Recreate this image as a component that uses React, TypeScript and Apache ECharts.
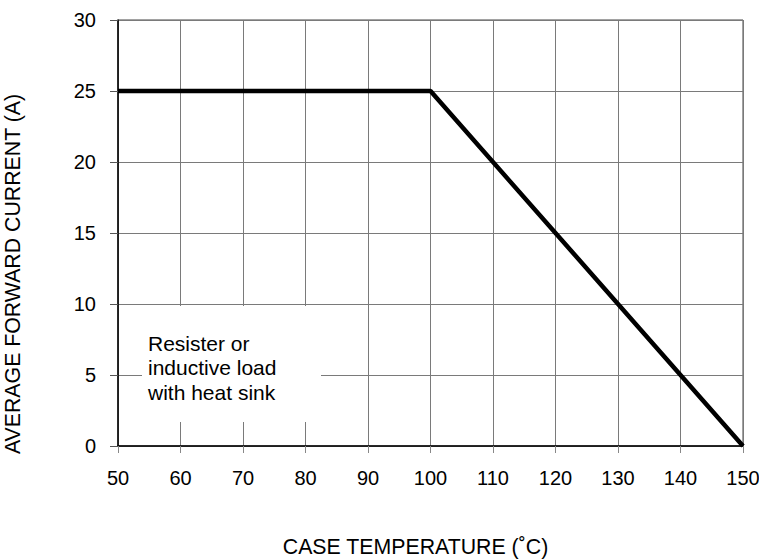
import React, { useEffect, useRef } from "react";
import * as echarts from "echarts";

const temperatures = [50, 100, 150];
const currents = [25, 25, 0];
const xTicks = { min: 50, max: 150, interval: 10 };
const yTicks = { min: 0, max: 30, interval: 5 };
const xName = "CASE TEMPERATURE (˚C)";
const yName = "AVERAGE FORWARD CURRENT (A)";
const noteLines = ["Resister or", "inductive load", "with heat sink"];

const FONT = "'Liberation Sans', Arial, sans-serif";

export default function App() {
  const ref = useRef<HTMLDivElement>(null);
  useEffect(() => {
    if (!ref.current) return;
    const chart = echarts.init(ref.current, undefined, { renderer: "svg" });
    const data = temperatures.map((t, i) => [t, currents[i]]);
    chart.setOption({
      animation: false,
      backgroundColor: "#ffffff",
      grid: {
        left: 118,
        right: 16,
        top: 20,
        bottom: 113,
        show: true,
        borderColor: "#444",
        borderWidth: 1,
        containLabel: false,
        outerBoundsMode: "none",
      },
      xAxis: {
        type: "value",
        min: xTicks.min,
        max: xTicks.max,
        interval: xTicks.interval,
        name: xName,
        nameLocation: "middle",
        nameGap: 90,
        nameTextStyle: { color: "#000", fontSize: 21.3, fontFamily: FONT, padding: [0, 30, 0, 0] },
        axisLine: { show: true, lineStyle: { color: "#000", width: 1.5 } },
        axisTick: { show: true, length: 7, lineStyle: { color: "#888" } },
        axisLabel: { color: "#000", fontSize: 20, fontFamily: FONT, margin: 22 },
        splitLine: { show: true, lineStyle: { color: "#7a7a7a", width: 1 } },
      },
      yAxis: {
        type: "value",
        min: yTicks.min,
        max: yTicks.max,
        interval: yTicks.interval,
        name: yName,
        nameLocation: "middle",
        nameGap: 95,
        nameTextStyle: { color: "#000", fontSize: 21.3, fontFamily: FONT, padding: [0, 82, 0, 0] },
        axisLine: { show: true, lineStyle: { color: "#000", width: 1.5 } },
        axisTick: { show: true, length: 8, lineStyle: { color: "#555" } },
        axisLabel: { color: "#000", fontSize: 20, fontFamily: FONT, margin: 22 },
        splitLine: { show: true, lineStyle: { color: "#7a7a7a", width: 1 } },
      },
      graphic: [
        {
          type: "rect",
          z: 50,
          shape: { x: 142, y: 306, width: 179, height: 116 },
          style: { fill: "#ffffff" },
        },
        {
          type: "text",
          z: 51,
          x: 148,
          y: 331,
          style: {
            text: noteLines.join("\n"),
            fill: "#000",
            fontSize: 21,
            fontFamily: FONT,
            lineHeight: 24.5,
          },
        },
      ],
      series: [
        {
          type: "line",
          data,
          symbol: "none",
          z: 60,
          lineStyle: { color: "#000", width: 4.5 },
        },
      ],
    });
    return () => chart.dispose();
  }, []);
  return (
    <div
      ref={ref}
      style={{ position: "fixed", left: 0, top: 0, width: 759, height: 559 }}
    />
  );
}
